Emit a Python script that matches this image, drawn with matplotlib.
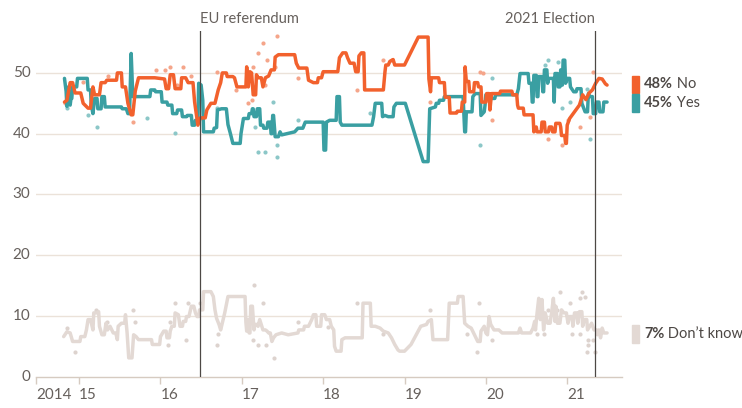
import matplotlib.pyplot as plt
from matplotlib.patches import Rectangle

plt.rcParams["font.family"] = ["Lato", "DejaVu Sans"]

# rolling poll lines: (decimal year, percent)
no_line = [
    (2014.82, 45.2), (2014.85, 45.5), (2014.89, 48.4), (2014.92, 48.4), (2014.95, 46.7),
    (2015.02, 46.7), (2015.05, 45.0), (2015.11, 44.2), (2015.14, 44.2), (2015.17, 47.7),
    (2015.19, 46.4), (2015.25, 46.4), (2015.27, 48.4), (2015.32, 48.4), (2015.34, 48.8),
    (2015.46, 48.8), (2015.47, 50.0), (2015.52, 50.0), (2015.53, 47.7), (2015.57, 47.7),
    (2015.60, 45.0), (2015.64, 43.1), (2015.66, 43.1), (2015.69, 47.0), (2015.73, 49.2),
    (2015.93, 49.2), (2016.05, 49.0), (2016.07, 47.4), (2016.10, 47.4), (2016.12, 49.7),
    (2016.16, 49.7), (2016.18, 47.4), (2016.25, 47.4), (2016.26, 49.2), (2016.31, 49.2),
    (2016.34, 48.4), (2016.40, 48.4), (2016.42, 45.2), (2016.46, 41.4), (2016.49, 42.6),
    (2016.55, 42.6), (2016.57, 43.9), (2016.62, 45.0), (2016.67, 45.0), (2016.71, 47.2),
    (2016.74, 48.4), (2016.76, 50.0), (2016.81, 50.0), (2016.82, 49.4), (2016.89, 49.4),
    (2016.91, 49.2), (2016.94, 47.7), (2017.05, 47.7), (2017.06, 51.0), (2017.08, 47.7),
    (2017.10, 50.2), (2017.12, 50.0), (2017.14, 46.4), (2017.17, 46.4), (2017.18, 49.7),
    (2017.20, 49.2), (2017.24, 49.2), (2017.26, 47.7), (2017.29, 49.2), (2017.33, 49.5),
    (2017.36, 50.5), (2017.40, 50.5), (2017.41, 52.6), (2017.45, 53.0), (2017.65, 53.0),
    (2017.67, 51.6), (2017.70, 50.8), (2017.80, 50.8), (2017.82, 48.8), (2017.88, 48.4),
    (2017.93, 48.4), (2017.94, 49.2), (2017.98, 49.2), (2018.00, 50.2), (2018.18, 50.2),
    (2018.20, 52.5), (2018.24, 53.3), (2018.28, 53.3), (2018.30, 52.5), (2018.33, 51.6),
    (2018.38, 51.6), (2018.40, 50.2), (2018.43, 50.2), (2018.44, 52.8), (2018.47, 53.3),
    (2018.50, 53.3), (2018.51, 47.2), (2018.74, 47.2), (2018.76, 50.2), (2018.77, 51.3),
    (2018.80, 51.3), (2018.82, 51.9), (2018.86, 52.2), (2018.88, 51.3), (2019.00, 51.3),
    (2019.17, 55.9), (2019.29, 55.9), (2019.30, 49.0), (2019.32, 46.9), (2019.33, 49.2),
    (2019.42, 49.2), (2019.43, 48.4), (2019.49, 48.4), (2019.50, 46.0), (2019.55, 46.0),
    (2019.56, 43.4), (2019.64, 43.4), (2019.65, 43.7), (2019.70, 43.7), (2019.71, 45.2),
    (2019.74, 45.2), (2019.745, 51.0), (2019.76, 48.6), (2019.79, 48.6), (2019.80, 46.9),
    (2019.85, 46.9), (2019.86, 48.4), (2019.90, 48.4), (2019.91, 47.7), (2019.94, 47.7),
    (2019.95, 45.2), (2020.00, 45.2), (2020.01, 46.6), (2020.04, 46.6), (2020.05, 43.9),
    (2020.07, 46.6), (2020.17, 46.6), (2020.18, 47.0), (2020.32, 47.0), (2020.33, 46.4),
    (2020.38, 46.4), (2020.39, 44.7), (2020.40, 44.2), (2020.46, 44.2), (2020.47, 43.1),
    (2020.58, 43.1), (2020.59, 40.3), (2020.62, 41.1), (2020.63, 40.3), (2020.68, 40.3),
    (2020.69, 41.9), (2020.72, 41.9), (2020.73, 40.3), (2020.77, 40.3), (2020.78, 41.1),
    (2020.81, 41.1), (2020.82, 40.3), (2020.85, 40.3), (2020.86, 41.7), (2020.91, 41.7),
    (2020.92, 41.1), (2020.93, 39.7), (2020.97, 39.7), (2020.98, 38.4), (2020.99, 38.4),
    (2021.00, 41.4), (2021.03, 42.5), (2021.09, 43.6), (2021.15, 44.7), (2021.19, 46.4),
    (2021.23, 45.6), (2021.27, 46.7), (2021.31, 47.2), (2021.35, 48.3), (2021.39, 49.1),
    (2021.43, 49.0), (2021.47, 48.2), (2021.49, 48.0),
]

yes_line = [
    (2014.82, 49.1), (2014.84, 47.0), (2014.85, 44.5), (2014.87, 47.7), (2014.89, 44.7),
    (2014.90, 45.8), (2014.91, 45.8), (2014.92, 47.7), (2014.97, 47.7), (2014.98, 49.1),
    (2015.10, 49.1), (2015.11, 47.2), (2015.14, 47.2), (2015.15, 44.7), (2015.17, 43.3),
    (2015.19, 45.8), (2015.22, 45.8), (2015.23, 44.1), (2015.27, 44.1), (2015.28, 46.1),
    (2015.31, 46.1), (2015.32, 44.4), (2015.52, 44.4), (2015.53, 44.1), (2015.58, 44.1),
    (2015.60, 43.3), (2015.62, 43.3), (2015.64, 53.2), (2015.65, 49.6), (2015.66, 46.1),
    (2015.87, 46.1), (2015.88, 47.2), (2015.93, 47.2), (2015.94, 46.9), (2016.01, 46.9),
    (2016.02, 45.2), (2016.08, 45.2), (2016.09, 44.7), (2016.14, 44.7), (2016.15, 43.3),
    (2016.20, 43.3), (2016.21, 43.9), (2016.26, 43.9), (2016.27, 42.8), (2016.32, 42.8),
    (2016.33, 43.0), (2016.38, 43.0), (2016.39, 41.4), (2016.42, 41.4), (2016.43, 42.2),
    (2016.46, 42.2), (2016.47, 48.3), (2016.50, 48.0), (2016.52, 45.5), (2016.53, 40.3),
    (2016.65, 40.3), (2016.66, 40.9), (2016.69, 41.0), (2016.70, 43.9), (2016.75, 44.1),
    (2016.81, 44.1), (2016.83, 41.5), (2016.86, 40.0), (2016.89, 38.4), (2016.98, 38.4),
    (2016.99, 40.0), (2017.02, 42.5), (2017.08, 42.5), (2017.09, 43.3), (2017.12, 43.3),
    (2017.13, 44.1), (2017.14, 44.1), (2017.15, 42.8), (2017.18, 42.8), (2017.19, 44.1),
    (2017.22, 44.1), (2017.23, 41.4), (2017.26, 41.4), (2017.27, 40.9), (2017.31, 40.9),
    (2017.32, 41.9), (2017.35, 41.9), (2017.36, 40.0), (2017.37, 40.0), (2017.38, 43.0),
    (2017.39, 43.0), (2017.41, 39.5), (2017.45, 39.5), (2017.47, 40.3), (2017.49, 39.8),
    (2017.65, 40.3), (2017.69, 40.9), (2017.75, 40.9), (2017.78, 41.9), (2018.00, 41.9),
    (2018.01, 37.3), (2018.03, 37.3), (2018.04, 41.9), (2018.08, 42.2), (2018.16, 42.2),
    (2018.17, 46.1), (2018.20, 46.1), (2018.21, 41.9), (2018.23, 41.4), (2018.60, 41.4),
    (2018.62, 42.8), (2018.64, 45.0), (2018.72, 45.0), (2018.73, 42.8), (2018.76, 43.0),
    (2018.80, 42.8), (2018.86, 42.8), (2018.87, 44.4), (2018.90, 45.0), (2019.01, 45.0),
    (2019.23, 35.4), (2019.29, 35.4), (2019.31, 44.1), (2019.38, 44.4), (2019.39, 45.0),
    (2019.42, 45.0), (2019.43, 45.5), (2019.48, 45.5), (2019.49, 46.1), (2019.72, 46.1),
    (2019.73, 43.0), (2019.74, 40.3), (2019.75, 40.3), (2019.76, 43.6), (2019.83, 43.6),
    (2019.84, 46.1), (2019.87, 46.6), (2019.93, 46.6), (2019.94, 43.0), (2019.98, 43.6),
    (2019.99, 44.7), (2020.00, 46.4), (2020.05, 46.4), (2020.06, 45.8), (2020.11, 45.8),
    (2020.12, 46.4), (2020.38, 46.4), (2020.40, 47.4), (2020.42, 49.9), (2020.52, 49.9),
    (2020.53, 48.3), (2020.56, 48.3), (2020.57, 45.2), (2020.58, 45.2), (2020.59, 49.6),
    (2020.62, 49.6), (2020.63, 46.1), (2020.64, 46.1), (2020.65, 49.4), (2020.69, 49.4),
    (2020.70, 46.9), (2020.71, 46.9), (2020.72, 50.5), (2020.75, 50.5), (2020.76, 48.3),
    (2020.77, 49.1), (2020.83, 49.1), (2020.84, 45.2), (2020.85, 49.9), (2020.88, 49.9),
    (2020.89, 47.7), (2020.91, 47.7), (2020.92, 50.5), (2020.93, 48.0), (2020.94, 48.0),
    (2020.95, 52.1), (2020.97, 52.1), (2020.98, 48.3), (2021.00, 49.1), (2021.03, 49.1),
    (2021.04, 47.7), (2021.08, 46.9), (2021.11, 46.9), (2021.12, 47.4), (2021.17, 47.4),
    (2021.18, 45.0), (2021.22, 43.6), (2021.25, 43.6), (2021.26, 46.6), (2021.28, 46.1),
    (2021.31, 46.1), (2021.32, 43.3), (2021.35, 43.3), (2021.36, 45.2), (2021.39, 45.2),
    (2021.40, 43.6), (2021.44, 43.6), (2021.45, 45.2), (2021.49, 45.2),
]

dk_line = [
    (2014.81, 6.6), (2014.85, 7.4), (2014.89, 7.2), (2014.92, 5.8), (2015.01, 5.8),
    (2015.02, 6.6), (2015.07, 6.6), (2015.09, 7.7), (2015.11, 9.4), (2015.14, 9.4),
    (2015.17, 7.7), (2015.18, 10.5), (2015.22, 10.5), (2015.24, 10.7), (2015.25, 8.3),
    (2015.28, 6.9), (2015.31, 6.9), (2015.33, 8.8), (2015.35, 7.7), (2015.38, 8.3),
    (2015.42, 7.2), (2015.45, 7.2), (2015.47, 6.1), (2015.48, 8.3), (2015.52, 8.8),
    (2015.56, 8.8), (2015.57, 10.2), (2015.59, 7.2), (2015.61, 3.1), (2015.65, 3.1),
    (2015.67, 6.9), (2015.70, 6.6), (2015.73, 6.1), (2015.89, 6.1), (2015.90, 5.3),
    (2015.99, 5.3), (2016.00, 6.6), (2016.04, 7.5), (2016.07, 7.5), (2016.08, 6.4),
    (2016.11, 6.4), (2016.12, 7.5), (2016.14, 8.3), (2016.17, 8.3), (2016.18, 10.5),
    (2016.22, 10.2), (2016.24, 8.3), (2016.27, 8.3), (2016.28, 9.1), (2016.31, 9.1),
    (2016.32, 9.9), (2016.35, 9.9), (2016.37, 11.0), (2016.38, 11.6), (2016.41, 11.6),
    (2016.43, 10.5), (2016.45, 9.9), (2016.47, 9.9), (2016.48, 11.0), (2016.52, 11.0),
    (2016.53, 14.0), (2016.62, 14.0), (2016.65, 13.2), (2016.67, 11.0), (2016.69, 9.6),
    (2016.72, 8.6), (2016.74, 7.7), (2016.79, 10.5), (2016.83, 13.2), (2017.04, 13.2),
    (2017.05, 9.0), (2017.06, 7.5), (2017.07, 9.4), (2017.09, 7.2), (2017.10, 7.2),
    (2017.11, 11.6), (2017.13, 11.6), (2017.15, 7.7), (2017.16, 8.6), (2017.19, 8.6),
    (2017.20, 8.3), (2017.22, 9.4), (2017.26, 7.7), (2017.29, 7.7), (2017.31, 7.5),
    (2017.33, 7.2), (2017.35, 7.2), (2017.37, 5.8), (2017.39, 6.4), (2017.42, 6.9),
    (2017.49, 7.2), (2017.57, 6.9), (2017.69, 7.2), (2017.70, 7.7), (2017.76, 7.7),
    (2017.77, 8.3), (2017.82, 8.3), (2017.86, 9.4), (2017.88, 10.2), (2017.91, 10.2),
    (2017.92, 8.3), (2017.97, 8.3), (2017.98, 10.2), (2018.02, 10.2), (2018.04, 9.4),
    (2018.08, 9.4), (2018.10, 8.3), (2018.13, 7.7), (2018.14, 5.0), (2018.16, 4.2),
    (2018.22, 4.2), (2018.23, 6.1), (2018.27, 6.4), (2018.48, 6.4), (2018.49, 12.1),
    (2018.58, 12.1), (2018.59, 8.3), (2018.64, 8.3), (2018.70, 8.0), (2018.74, 7.5),
    (2018.80, 7.2), (2018.84, 6.4), (2018.88, 5.3), (2018.92, 4.4), (2018.94, 4.2),
    (2019.00, 4.2), (2019.08, 5.3), (2019.20, 8.3), (2019.27, 8.6), (2019.29, 9.1),
    (2019.33, 9.4), (2019.35, 6.1), (2019.53, 6.1), (2019.55, 12.1), (2019.65, 12.1),
    (2019.66, 13.2), (2019.72, 13.2), (2019.74, 8.8), (2019.78, 8.3), (2019.82, 8.0),
    (2019.86, 6.9), (2019.90, 5.8), (2019.93, 5.8), (2019.94, 7.5), (2019.98, 8.3),
    (2020.00, 7.2), (2020.02, 6.9), (2020.04, 9.9), (2020.06, 8.6), (2020.10, 7.7),
    (2020.16, 7.7), (2020.20, 7.2), (2020.40, 7.2), (2020.42, 8.0), (2020.44, 7.2),
    (2020.55, 7.2), (2020.58, 8.0), (2020.60, 9.1), (2020.61, 7.7), (2020.63, 10.5),
    (2020.65, 12.9), (2020.67, 9.4), (2020.69, 12.7), (2020.71, 7.7), (2020.73, 10.5),
    (2020.76, 8.8), (2020.79, 8.8), (2020.81, 10.7), (2020.83, 12.9), (2020.85, 9.1),
    (2020.86, 11.6), (2020.88, 8.8), (2020.91, 8.8), (2020.93, 11.0), (2020.96, 10.5),
    (2020.99, 10.5), (2021.01, 8.8), (2021.03, 9.9), (2021.06, 9.9), (2021.07, 8.3),
    (2021.09, 10.5), (2021.12, 10.5), (2021.13, 8.8), (2021.15, 10.7), (2021.18, 10.7),
    (2021.19, 8.3), (2021.21, 9.4), (2021.24, 9.4), (2021.25, 7.7), (2021.30, 8.8),
    (2021.33, 7.7), (2021.36, 7.7), (2021.37, 6.9), (2021.39, 7.7), (2021.41, 6.4),
    (2021.43, 8.0), (2021.45, 7.2), (2021.49, 7.2),
]

# individual polls
no_polls = [
    (2014.83, 45.0), (2015.05, 48.5), (2015.35, 49.5), (2015.66, 41.9), (2015.95, 50.5),
    (2016.05, 50.5), (2016.12, 51.0), (2016.20, 48.0), (2016.28, 51.0), (2016.38, 49.5),
    (2016.69, 50.1), (2016.93, 47.2), (2017.07, 45.0), (2017.12, 45.5), (2017.14, 50.9),
    (2017.20, 53.2), (2017.26, 55.0), (2017.29, 48.0), (2017.31, 52.1), (2017.41, 50.9),
    (2017.43, 56.0), (2017.69, 49.1), (2018.41, 47.2), (2018.73, 52.1), (2018.85, 52.1),
    (2019.31, 45.2), (2019.93, 50.1), (2019.97, 50.0), (2020.08, 42.2), (2020.77, 39.2),
    (2020.94, 38.1), (2021.01, 42.2), (2021.16, 41.1), (2021.28, 42.7), (2021.32, 50.1),
]
yes_polls = [
    (2014.85, 44.2), (2015.11, 43.1), (2015.22, 41.1), (2015.83, 42.6), (2016.18, 40.1),
    (2016.69, 44.2), (2017.16, 41.1), (2017.20, 37.0), (2017.28, 37.0), (2017.38, 45.2),
    (2017.43, 36.2), (2017.43, 38.1), (2017.69, 42.2), (2018.57, 43.4), (2019.93, 38.1),
    (2020.08, 49.1), (2020.73, 51.3), (2020.77, 52.1), (2020.89, 51.8), (2020.94, 44.2),
    (2021.04, 45.2), (2021.24, 47.4), (2021.28, 39.2),
]
dk_polls = [
    (2014.85, 8.0), (2014.95, 4.1), (2015.21, 11.0), (2015.34, 9.0), (2015.66, 11.0),
    (2015.69, 9.0), (2016.09, 5.2), (2016.12, 9.0), (2016.18, 12.1), (2016.32, 6.0),
    (2016.34, 12.1), (2016.48, 12.1), (2016.69, 5.2), (2016.71, 7.1), (2017.14, 6.0),
    (2017.15, 15.1), (2017.20, 5.2), (2017.26, 12.1), (2017.30, 5.2), (2017.39, 3.0),
    (2017.69, 9.0), (2018.06, 8.2), (2018.41, 12.1), (2018.74, 7.1), (2019.31, 11.0),
    (2019.77, 7.1), (2019.89, 4.1), (2019.91, 12.1), (2020.07, 6.0), (2020.63, 7.1),
    (2020.71, 7.1), (2020.77, 11.0), (2020.87, 11.0), (2020.91, 14.0), (2021.04, 12.1),
    (2021.06, 7.1), (2021.16, 7.1), (2021.16, 12.9), (2021.18, 14.0), (2021.22, 13.2),
    (2021.24, 4.1), (2021.26, 6.0), (2021.26, 5.2), (2021.32, 6.0), (2021.34, 4.1),
]

events = [(2016.48, "EU referendum", "left"), (2021.34, "2021 Election", "right")]
x_ticks = [2014.47, 2015, 2016, 2017, 2018, 2019, 2020, 2021]
x_labels = ["2014", "15", "16", "17", "18", "19", "20", "21"]
y_ticks = [0, 10, 20, 30, 40, 50]

C_NO, C_NO_DOT = "#f2612d", "#f5a58a"
C_YES, C_YES_DOT = "#3a9fa2", "#8cc7c8"
C_DK, C_DK_DOT = "#e3d9d4", "#ddd3ce"
GRID = "#ebe2d9"
BASE = "#d6cbc1"
TXT = "#66605c"
DARK = "#4d4845"

fig = plt.figure(figsize=(7.42, 4.08), dpi=100)
ax = fig.add_axes([36 / 742, 1 - 376.7 / 408, (621.7 - 36) / 742, (376.7 - 31) / 408])
ax.set_xlim(2014.47, 2021.67)
ax.set_ylim(0, 56.9)

for y in y_ticks[1:]:
    ax.axhline(y, color=GRID, lw=1, zorder=0)

for pts, col in [(dk_polls, C_DK_DOT), (yes_polls, C_YES_DOT), (no_polls, C_NO_DOT)]:
    xs, ys = zip(*pts)
    ax.scatter(xs, ys, s=9, color=col, linewidths=0, zorder=1)

for pts, col in [(dk_line, C_DK), (yes_line, C_YES), (no_line, C_NO)]:
    xs, ys = zip(*pts)
    ax.plot(xs, ys, color=col, lw=2.5, solid_joinstyle="round", solid_capstyle="round", zorder=3)

for x, label, ha in events:
    ax.axvline(x, color=DARK, lw=0.9, zorder=4)
    ax.text(x, 58.9, label, ha=ha, va="center", color=TXT, fontsize=10.5, clip_on=False)

for side in ["left", "right", "top"]:
    ax.spines[side].set_visible(False)
ax.spines["bottom"].set_color(BASE)
ax.spines["bottom"].set_linewidth(1)

ax.set_xticks(x_ticks)
ax.set_xticklabels(x_labels, ha="left")
ax.set_yticks(y_ticks)
ax.tick_params(axis="x", colors=BASE, length=5, width=1, pad=3, labelcolor=TXT, labelsize=11)
ax.tick_params(axis="y", length=0, pad=4, labelcolor=TXT, labelsize=11)
for lab in ax.get_yticklabels():
    lab.set_verticalalignment("center")

# right-hand legend
legend = [
    (no_line, C_NO, "No", 76, 93),
    (yes_line, C_YES, "Yes", 94, 112),
    (dk_line, C_DK, "Don\u2019t know", 325, 343),
]
for pts, col, name, top, bot in legend:
    fig.patches.append(Rectangle((632 / 742, 1 - bot / 408), 7 / 742, (bot - top) / 408,
                                 transform=fig.transFigure, color=col))
    ymid = 1 - (top + bot) / 2 / 408
    t = fig.text(644 / 742, ymid, f"{round(pts[-1][1])}%", weight="bold", color=DARK,
                 fontsize=10.5, va="center")
    ax.annotate(f" {name}", xy=(1, 0.5), xycoords=t, va="center", ha="left",
                color=DARK, fontsize=10.5, annotation_clip=False)

fig.savefig("out.png", dpi=100)
